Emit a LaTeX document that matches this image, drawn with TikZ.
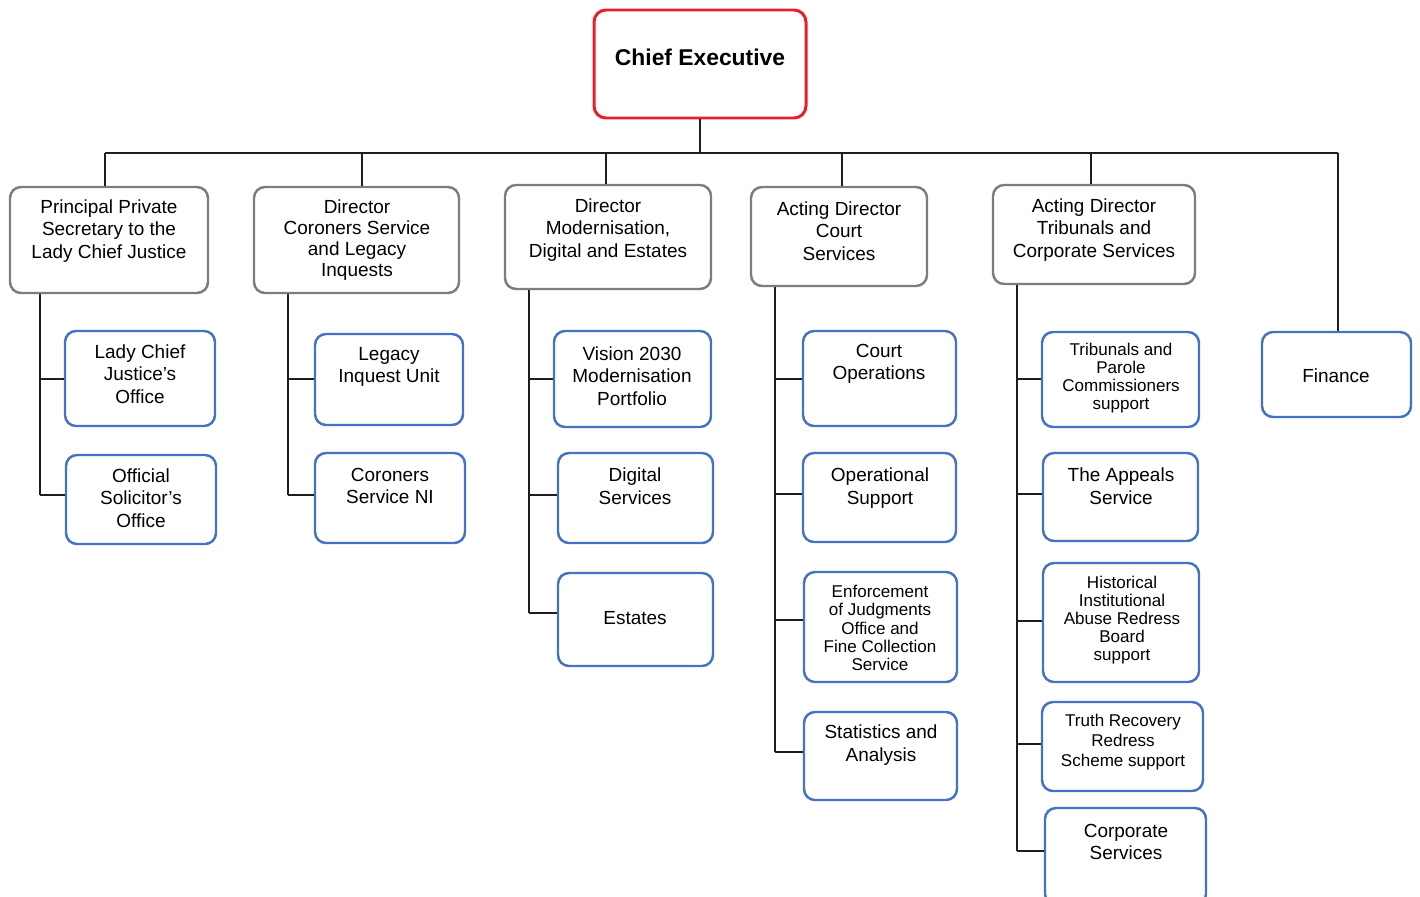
\documentclass[tikz,border=0pt]{standalone}
\usepackage{fontspec}
\setmainfont{Liberation Sans}
\usetikzlibrary{fit}
\definecolor{cered}{RGB}{232,32,40}
\definecolor{grayb}{RGB}{125,125,125}
\definecolor{blueb}{RGB}{68,114,196}
\definecolor{linec}{RGB}{30,30,30}
\tikzset{
  cebox/.style={draw=cered, line width=1.7pt, rounded corners=0.24cm, inner sep=0pt, fill=white},
  gbox/.style={draw=grayb, line width=1.4pt, rounded corners=0.22cm, inner sep=0pt, fill=white},
  bbox/.style={draw=blueb, line width=1.4pt, rounded corners=0.22cm, inner sep=0pt, fill=white},
  txt/.style={font=\fontsize{10.8}{12.8}\selectfont, align=center, inner sep=0pt},
  txtP/.style={font=\fontsize{10.8}{11.9}\selectfont, align=center, inner sep=0pt},
  txtS/.style={font=\fontsize{9.7}{10.3}\selectfont, align=center, inner sep=0pt},
  txtM/.style={font=\fontsize{9.7}{11.4}\selectfont, align=center, inner sep=0pt},
  conn/.style={draw=linec, line width=1pt},
}
\begin{document}
\begin{tikzpicture}[x=0.02cm,y=-0.02cm]
\useasboundingbox (0,0) rectangle (1420,896);
% boxes
\node[cebox, fit={(594,10)(806,118)}] (ce) {};
\node[gbox, fit={(10,187)(208,293)}] (p1) {};
\node[gbox, fit={(254,187)(459,293)}] (p2) {};
\node[gbox, fit={(505,185)(711,289)}] (p3) {};
\node[gbox, fit={(751,187)(927,286)}] (p4) {};
\node[gbox, fit={(993,185)(1195,284)}] (p5) {};
\node[bbox, fit={(1262,332)(1411,417)}] (fin) {};
\node[bbox, fit={(65,331)(215,426)}] (c11) {};
\node[bbox, fit={(66,455)(216,544)}] (c12) {};
\node[bbox, fit={(315,334)(463,425)}] (c21) {};
\node[bbox, fit={(315,453)(465,543)}] (c22) {};
\node[bbox, fit={(554,331)(711,427)}] (c31) {};
\node[bbox, fit={(558,453)(713,543)}] (c32) {};
\node[bbox, fit={(558,573)(713,666)}] (c33) {};
\node[bbox, fit={(803,331)(956,426)}] (c41) {};
\node[bbox, fit={(803,453)(956,542)}] (c42) {};
\node[bbox, fit={(804,572)(957,682)}] (c43) {};
\node[bbox, fit={(804,712)(957,800)}] (c44) {};
\node[bbox, fit={(1042,332)(1199,427)}] (c51) {};
\node[bbox, fit={(1043,453)(1198,541)}] (c52) {};
\node[bbox, fit={(1043,563)(1199,682)}] (c53) {};
\node[bbox, fit={(1042,702)(1203,791)}] (c54) {};
\node[bbox, fit={(1045,808)(1206,905)}] (c55) {};
% bus and stems
\coordinate (bus) at (700,153);
\coordinate (s1) at (105,153);
\coordinate (s2) at (362,153);
\coordinate (s3) at (606,153);
\coordinate (s4) at (842,153);
\coordinate (s5) at (1091,153);
\coordinate (s6) at (1338,153);
\draw[conn] (ce.south) -- (ce.south |- bus);
\draw[conn] (s1) -- (s6);
\draw[conn] (s1) -- (s1 |- p1.north);
\draw[conn] (s2) -- (s2 |- p2.north);
\draw[conn] (s3) -- (s3 |- p3.north);
\draw[conn] (s4) -- (s4 |- p4.north);
\draw[conn] (s5) -- (s5 |- p5.north);
\draw[conn] (s6) -- (s6 |- fin.north);
% column connectors
\coordinate (h11) at (40,379); \coordinate (h12) at (40,495);
\draw[conn] (h11 |- p1.south) -- (h12);
\draw[conn] (h11) -- (h11 -| c11.west);
\draw[conn] (h12) -- (h12 -| c12.west);
\coordinate (h21) at (288,379); \coordinate (h22) at (288,495);
\draw[conn] (h21 |- p2.south) -- (h22);
\draw[conn] (h21) -- (h21 -| c21.west);
\draw[conn] (h22) -- (h22 -| c22.west);
\coordinate (h31) at (529,379); \coordinate (h32) at (529,495); \coordinate (h33) at (529,613);
\draw[conn] (h31 |- p3.south) -- (h33);
\draw[conn] (h31) -- (h31 -| c31.west);
\draw[conn] (h32) -- (h32 -| c32.west);
\draw[conn] (h33) -- (h33 -| c33.west);
\coordinate (h41) at (775,379); \coordinate (h42) at (775,494); \coordinate (h43) at (775,620); \coordinate (h44) at (775,752);
\draw[conn] (h41 |- p4.south) -- (h44);
\draw[conn] (h41) -- (h41 -| c41.west);
\draw[conn] (h42) -- (h42 -| c42.west);
\draw[conn] (h43) -- (h43 -| c43.west);
\draw[conn] (h44) -- (h44 -| c44.west);
\coordinate (h51) at (1017,379); \coordinate (h52) at (1017,494); \coordinate (h53) at (1017,621); \coordinate (h54) at (1017,744); \coordinate (h55) at (1017,851);
\draw[conn] (h51 |- p5.south) -- (h55);
\draw[conn] (h51) -- (h51 -| c51.west);
\draw[conn] (h52) -- (h52 -| c52.west);
\draw[conn] (h53) -- (h53 -| c53.west);
\draw[conn] (h54) -- (h54 -| c54.west);
\draw[conn] (h55) -- (h55 -| c55.west);
% texts
\node[inner sep=0pt, font=\fontsize{13}{15}\selectfont\bfseries] (tce) at (700,57) {Chief Executive};
\node[txt] (tp1) at (109,231) {Principal Private\\Secretary to the\\Lady Chief Justice};
\node[txtP] (tp2) at (357,240) {Director\\Coroners Service\\and Legacy\\Inquests};
\node[txt] (tp3) at (608,230) {Director\\Modernisation,\\Digital and Estates};
\node[txt] (tp4) at (839,231) {Acting Director\\Court\\Services};
\node[txt] (tp5) at (1094,230) {Acting Director\\Tribunals and\\Corporate Services};
\node[txt] (tfin) at (1336,376) {Finance};
\node[txt] (t11) at (140,374) {Lady Chief\\Justice's\\Office};
\node[txt] (t12) at (141,498) {Official\\Solicitor's\\Office};
\node[txt] (t21) at (389,367) {Legacy\\Inquest Unit};
\node[txt] (t22) at (390,486) {Coroners\\Service NI};
\node[txt] (t31) at (632,376) {Vision 2030\\Modernisation\\Portfolio};
\node[txt] (t32) at (635,486) {Digital\\Services};
\node[txt] (t33) at (635,618) {Estates};
\node[txt] (t41) at (879,364) {Court\\Operations};
\node[txt] (t42) at (880,488) {Operational\\Support};
\node[txtS] (t43) at (880,628) {Enforcement\\of Judgments\\Office and\\Fine Collection\\Service};
\node[txt] (t44) at (881,745) {Statistics and\\Analysis};
\node[txtS] (t51) at (1121,378) {Tribunals and\\Parole\\Commissioners\\support};
\node[txt] (t52) at (1121,486) {The Appeals\\Service};
\node[txtS] (t53) at (1122,620) {Historical\\Institutional\\Abuse Redress\\Board\\support};
\node[txtM] (t54) at (1123,742) {Truth Recovery\\Redress\\Scheme support};
\node[txt] (t55) at (1126,842) {Corporate\\Services};
\end{tikzpicture}
\end{document}
